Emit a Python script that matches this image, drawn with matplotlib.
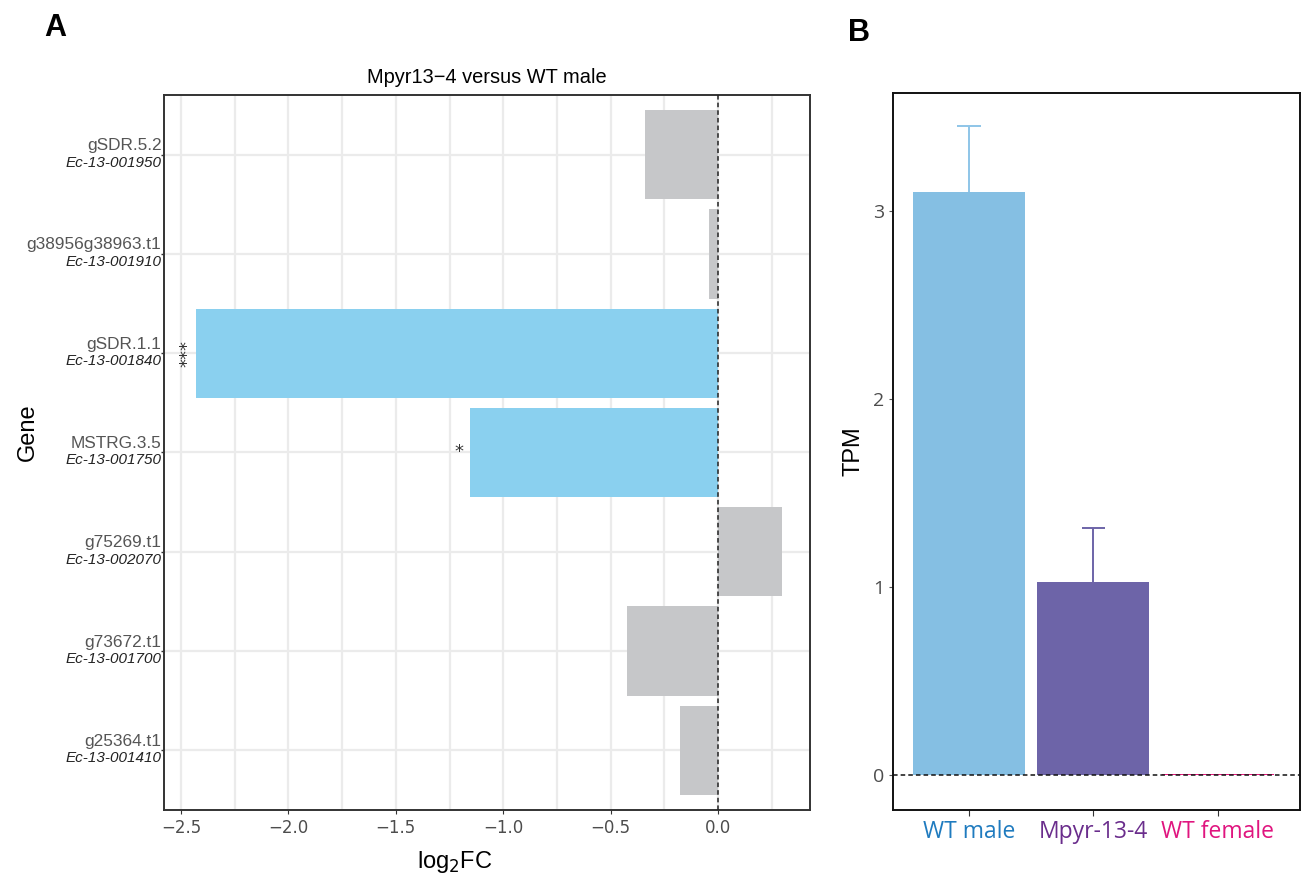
import matplotlib.pyplot as plt
import numpy as np
from matplotlib.ticker import MultipleLocator
import matplotlib.transforms as mtransforms

# panel A data (bottom to top)
genes = ["g25364.t1", "g73672.t1", "g75269.t1", "MSTRG.3.5",
         "gSDR.1.1", "g38956g38963.t1", "gSDR.5.2"]
gene_ids = ["Ec-13-001410", "Ec-13-001700", "Ec-13-002070", "Ec-13-001750",
            "Ec-13-001840", "Ec-13-001910", "Ec-13-001950"]
log2fc = [-0.177, -0.424, 0.298, -1.155, -2.43, -0.042, -0.34]
signif = ["", "", "", "*", "***", "", ""]

# panel B data
groups = ["WT male", "Mpyr-13-4", "WT female"]
tpm = [3.10, 1.027, 0.006]
tpm_err = [0.352, 0.287, 0.0]

grey = "#c6c7c9"
blue = "#8ad0ef"
bar_cols_b = ["#85bfe3", "#6d64a8", "#e8197e"]
err_cols_b = ["#8ec5e8", "#6d64a8", "#e8197e"]
lab_cols_b = ["#1f7bbf", "#6a2d8c", "#e0157f"]

fig = plt.figure(figsize=(13.06, 8.83), dpi=100)

# ---- panel A ----
ax = fig.add_axes([0.1256, 0.0827, 0.4946, 0.8097])
y = np.arange(len(genes))
cols = [blue if s else grey for s in signif]
ax.barh(y, log2fc, height=0.9, color=cols, zorder=2)
ax.axvline(0, color="#222222", ls=(0, (3, 2)), lw=1.1, zorder=3)
ax.set_xlim(-2.579, 0.428)
ax.set_ylim(-0.6, 6.6)
ax.xaxis.set_major_locator(MultipleLocator(0.5))
ax.xaxis.set_minor_locator(MultipleLocator(0.25))
ax.grid(which="both", axis="x", color="#ebebeb", lw=1.6, zorder=0)
ax.set_yticks(y)
ax.set_yticklabels([])
ax.grid(axis="y", color="#ebebeb", lw=1.6, zorder=0)
ax.tick_params(axis="y", length=2, width=1, color="#333333")
ax.tick_params(axis="x", which="major", length=3, color="#333333",
               labelsize=12, labelcolor="#4d4d4d")
ax.tick_params(axis="x", which="minor", length=0)
ax.set_xticklabels([f"{v:.1f}".replace("-", "\u2212") for v in ax.get_xticks()])
for s in ax.spines.values():
    s.set_color("#333333")
    s.set_linewidth(1.4)

trans = mtransforms.blended_transform_factory(ax.transAxes, ax.transData)
for yi, g, gid, val, sg in zip(y, genes, gene_ids, log2fc, signif):
    ax.text(-0.004, yi + 0.09, g, transform=trans, ha="right", va="center",
            fontsize=12.4, color="#555555", family="Liberation Sans")
    ax.text(-0.004, yi - 0.08, gid, transform=trans, ha="right", va="center",
            fontsize=11, style="italic", color="#222222", family="Liberation Sans")
    if sg == "***":
        ax.text(val - 0.04, yi, sg, ha="center", va="center", rotation=90,
                fontsize=13, color="#333333")
    elif sg:
        ax.text(val - 0.03, yi, sg, ha="right", va="center",
                fontsize=13, color="#333333")

ax.set_title("Mpyr13\u22124 versus WT male", fontsize=14.4, pad=9,
             family="Liberation Sans")
ax.set_xlabel("log$_2$FC", fontsize=17, family="Liberation Sans")
ax.xaxis.set_label_coords(0.45, -0.055)
fig.text(0.021, 0.51, "Gene", fontsize=17, rotation=90, ha="center",
         va="center", family="Liberation Sans")

fig.text(0.042, 0.985, "A", fontsize=22, fontweight="bold", va="top",
         ha="center", family="Liberation Sans")

# ---- panel B ----
bx = fig.add_axes([0.6838, 0.0827, 0.3116, 0.812])
xb = np.arange(len(groups))
bx.bar(xb, tpm, width=0.9, color=bar_cols_b, zorder=2)
tops = np.array(tpm) + np.array(tpm_err)
for xi, v, top, e, c in zip(xb, tpm, tops, tpm_err, err_cols_b):
    if e > 0:
        bx.vlines(xi, v, top, color=c, lw=1.4, zorder=3)
        bx.hlines(top, xi - 0.095, xi + 0.095, color=c, lw=1.4, zorder=3)
bx.axhline(0, color="#111111", ls=(0, (3, 2)), lw=1.1, zorder=3)
bx.set_xlim(-0.61, 2.66)
bx.set_ylim(-0.186, 3.628)
bx.set_yticks([0, 1, 2, 3])
bx.set_xticks(xb)
bx.set_xticklabels(groups, fontsize=16.5, family="Open Sans")
for t, c in zip(bx.get_xticklabels(), lab_cols_b):
    t.set_color(c)
bx.tick_params(axis="y", labelsize=14, labelcolor="#4d4d4d", length=3,
               color="#555555")
bx.tick_params(axis="x", length=4, color="#333333", pad=3)
for lab in bx.get_yticklabels():
    lab.set_family("Open Sans")
for s in bx.spines.values():
    s.set_color("#111111")
    s.set_linewidth(1.4)
bx.set_ylabel("TPM", fontsize=17, labelpad=6, family="Liberation Sans")

fig.text(0.658, 0.98, "B", fontsize=22, fontweight="bold", va="top",
         ha="center", family="Liberation Sans")

fig.savefig("out.png", dpi=100)
